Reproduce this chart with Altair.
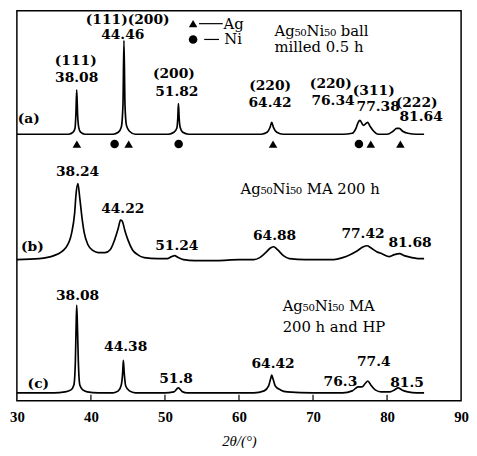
import altair as alt
import pandas as pd

# ---- XRD pattern (a): Ag50Ni50 ball milled 0.5 h ----
a_deg = [30, 33, 36, 37.0, 37.6, 37.85, 37.97, 38.08, 38.2, 38.35, 38.6, 39.2, 41, 43.0, 43.7,
         44.1, 44.33, 44.46, 44.6, 44.8, 45.2, 46, 48, 50.5, 51.2, 51.6, 51.73, 51.82, 51.92,
         52.05, 52.4, 53.2, 56, 60, 63.0, 63.8, 64.2, 64.42, 64.65, 65.1, 66, 70, 74, 75.3,
         75.8, 76.1, 76.34, 76.8, 77.38, 77.7, 78.2, 78.8, 80, 80.8, 81.3, 81.64, 82.1, 82.8, 84, 85]
a_int = [270, 270, 270, 270, 272, 276, 290, 315, 290, 277, 272, 270, 270, 270, 272,
         277, 300, 365, 300, 279, 273, 270, 270, 270, 272, 276, 286, 301, 286,
         277, 272, 270, 270, 270, 270, 272, 277, 282, 277, 272, 270, 270, 270, 271,
         276, 282, 284, 279, 282, 278, 273, 270, 270, 273, 276, 276, 273, 271, 270, 270]

# ---- XRD pattern (b): Ag50Ni50 MA 200 h ----
b_deg = [30, 33, 35, 36.6, 37.4, 37.8, 38.0, 38.24, 38.5, 38.8, 39.1, 39.6, 40.3, 41.0, 41.9,
         42.6, 43.2, 43.7, 44.0, 44.22, 44.6, 45.0, 45.6, 46.3, 47.2, 49, 50.3, 50.9, 51.3,
         51.8, 52.5, 54, 57, 60, 62, 62.8, 63.6, 64.3, 64.7, 65.2, 66, 66.8, 69, 72.8, 74, 75,
         76, 76.8, 77.3, 77.8, 78.6, 79.3, 80.3, 81.0, 81.7, 82.3, 83.4, 84.2, 85]
b_int = [143, 144, 147, 155, 170, 190, 210, 220, 205, 185, 170, 158, 152, 150, 150,
         153, 163, 175, 183, 182, 172, 163, 153, 148, 145, 144, 144, 146, 147,
         145, 143, 142, 142, 143, 143, 145, 150, 155, 156, 153, 147, 144, 143, 143, 145, 148,
         152, 156, 157, 155, 151, 149, 146, 148, 149, 147, 145, 144, 144]

# ---- XRD pattern (c): Ag50Ni50 MA 200 h and HP ----
c_deg = [30, 35, 36.5, 37.3, 37.7, 37.9, 38.0, 38.08, 38.18, 38.3, 38.5, 38.9, 39.5, 41, 43,
         43.7, 44.1, 44.3, 44.38, 44.5, 44.7, 45.2, 46, 50, 51.2, 51.8, 52.4, 53, 58, 62,
         63.4, 64.0, 64.3, 64.42, 64.6, 64.9, 65.6, 66.5, 70, 74, 75.3, 76.1, 76.6, 77.1,
         77.4, 77.8, 78.4, 79.2, 80.4, 81.0, 81.5, 82.0, 82.8, 84, 85]
c_int = [8, 8, 9, 11, 16, 40, 75, 97, 75, 40, 16, 11, 9, 8, 8,
         10, 16, 30, 41, 28, 15, 10, 8, 8, 9, 13, 9, 8, 8, 8,
         10, 15, 23, 26, 22, 15, 11, 9, 8, 8, 10, 14, 14, 18,
         20, 16, 11, 9, 9, 11, 13, 11, 9, 8, 8]

# ---- phase markers under pattern (a) ----
ag_marks = [38.1, 45.1, 64.6, 77.8, 81.8]
ni_marks = [43.2, 51.85, 76.2]
marker_level = 260

# ---- peak annotations ----
peak_text = ["(111)", "38.08", "(111)(200)", "44.46", "(200)", "51.82", "(220)", "64.42",
             "(220)", "76.34", "(311)", "77.38", "(222)", "81.64", "(a)",
             "38.24", "44.22", "51.24", "64.88", "77.42", "81.68", "(b)",
             "38.08", "44.38", "51.8", "64.42", "76.3", "77.4", "81.5", "(c)"]
peak_x = [37.95, 38.08, 44.97, 44.3, 51.2, 51.6, 64.2, 64.2,
          72.4, 72.7, 78.2, 78.8, 84.0, 84.6, 31.6,
          38.2, 44.3, 51.6, 64.8, 76.75, 83.1, 32.1,
          38.2, 44.7, 51.5, 64.6, 73.7, 78.2, 82.7, 32.9]
peak_y = [344, 327, 386, 370, 331, 313, 319, 302,
          321, 304, 314, 298, 302, 287, 285,
          232, 194, 157, 167, 169, 160, 156,
          106, 54, 22, 37, 19, 39, 18, 17]

desc_text = ["Ag₅₀Ni₅₀ ball", "milled 0.5 h", "Ag₅₀Ni₅₀ MA 200 h", "Ag₅₀Ni₅₀ MA", "200 h and HP"]
desc_x = [64.8, 64.8, 60.2, 65.9, 65.9]
desc_y = [374, 358, 214, 96, 75]

legend_text = ["Ag", "Ni"]
legend_sym_x = [53.8, 53.8]
legend_y = [382, 366]
legend_dash_x = [54.6, 55.3]
legend_dash_x2 = [57.8, 57.3]
legend_text_x = [57.9, 58.0]

tick_vals = [40, 50, 60, 70, 80]

# ---------------- build tables ----------------
curves = pd.concat([
    pd.DataFrame({"deg": a_deg, "val": a_int, "series": "a"}),
    pd.DataFrame({"deg": b_deg, "val": b_int, "series": "b"}),
    pd.DataFrame({"deg": c_deg, "val": c_int, "series": "c"}),
], ignore_index=True)

markers = pd.concat([
    pd.DataFrame({"deg": ag_marks, "val": marker_level, "phase": "Ag"}),
    pd.DataFrame({"deg": ni_marks, "val": marker_level, "phase": "Ni"}),
    pd.DataFrame({"deg": legend_sym_x, "val": legend_y, "phase": ["Ag", "Ni"]}),
], ignore_index=True)

peaks = pd.DataFrame({"text": peak_text, "deg": peak_x, "val": peak_y})
descs = pd.DataFrame({"text": desc_text, "deg": desc_x, "val": desc_y})
legend = pd.DataFrame({"text": legend_text, "x": legend_dash_x, "x2": legend_dash_x2,
                       "tx": legend_text_x, "val": legend_y})
ticks = pd.DataFrame({"t": tick_vals})

xscale = alt.Scale(domain=[30, 90], nice=False)
yscale = alt.Scale(domain=[0, 395], nice=False)

xaxis = alt.Axis(values=[30, 40, 50, 60, 70, 80, 90], format="d", grid=False, ticks=False,
                 domain=False, labelFlush=False, labelFont="Liberation Serif", labelFontSize=15,
                 labelFontWeight="bold", labelColor="black", labelPadding=9,
                 title="2θ/(°)", titleFont="Liberation Serif", titleFontSize=15,
                 titleFontStyle="italic", titleFontWeight="normal", titleColor="black",
                 titlePadding=9)

base_x = alt.X("deg:Q", scale=xscale, axis=xaxis)
base_y = alt.Y("val:Q", scale=yscale, axis=None)

lines = alt.Chart(curves).mark_line(color="black", strokeWidth=1.7, interpolate="monotone").encode(
    x=base_x, y=base_y, detail="series:N")

pts = alt.Chart(markers).mark_point(filled=True, color="black", size=75, opacity=1).encode(
    x=alt.X("deg:Q", scale=xscale),
    y=alt.Y("val:Q", scale=yscale),
    shape=alt.Shape("phase:N", scale=alt.Scale(domain=["Ag", "Ni"], range=["triangle-up", "circle"]),
                    legend=None))

peak_labels = alt.Chart(peaks).mark_text(font="DejaVu Serif", fontSize=14, fontWeight="bold",
                                         color="black", align="center", baseline="middle").encode(
    x=alt.X("deg:Q", scale=xscale), y=alt.Y("val:Q", scale=yscale), text="text:N")

desc_labels = alt.Chart(descs).mark_text(font="DejaVu Serif", fontSize=15, color="black",
                                         align="left", baseline="middle").encode(
    x=alt.X("deg:Q", scale=xscale), y=alt.Y("val:Q", scale=yscale), text="text:N")

leg_dash = alt.Chart(legend).mark_rule(color="black", strokeWidth=1.2).encode(
    x=alt.X("x:Q", scale=xscale), x2="x2:Q", y=alt.Y("val:Q", scale=yscale))

leg_text = alt.Chart(legend).mark_text(font="DejaVu Serif", fontSize=15, color="black",
                                       align="left", baseline="middle").encode(
    x=alt.X("tx:Q", scale=xscale), y=alt.Y("val:Q", scale=yscale), text="text:N")

tick_marks = alt.Chart(ticks).mark_rule(color="black", strokeWidth=1.2).encode(
    x=alt.X("t:Q", scale=xscale), y=alt.value(395), y2=alt.value(389))

chart = alt.layer(lines, pts, peak_labels, desc_labels, leg_dash, leg_text, tick_marks).properties(
    width=450, height=395,
    padding={"left": 9, "top": 0, "right": 8, "bottom": 45},
    autosize=alt.AutoSizeParams(type="none"),
    background="white",
).configure_view(stroke="black", strokeWidth=1.5)

chart.save("out.html", embed_options={"renderer": "svg", "actions": False})
